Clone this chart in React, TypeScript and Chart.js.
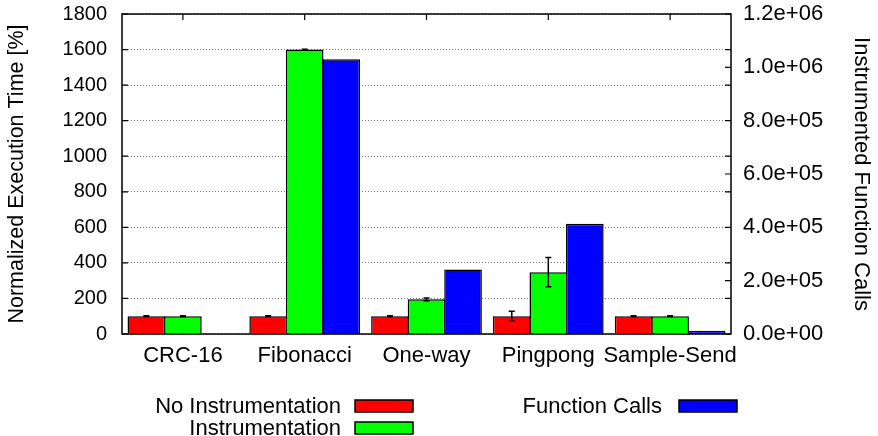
import React, { useEffect, useRef } from "react";
import { Chart, registerables } from "chart.js";

Chart.register(...registerables);

const categories = ["CRC-16", "Fibonacci", "One-way", "Pingpong", "Sample-Send"];
const noInstrumentation = [100, 100, 100, 100, 100];
const noInstrumentationErr = [2, 2, 2, 28, 2];
const instrumentation = [100, 1600, 195, 348, 100];
const instrumentationErr = [2, 2, 8, 82, 2];
const functionCalls = [300, 1030000, 242000, 413000, 12000];
const seriesNames = ["No Instrumentation", "Instrumentation", "Function Calls"];
const seriesColors = ["#ff0000", "#00ff00", "#0000ff"];
const leftTitle = "Normalized Execution Time [%]";
const rightTitle = "Instrumented Function Calls";

const FONT = "'Liberation Sans', Arial, Helvetica, sans-serif";

function expFormat(v: number): string {
  const s = Number(v).toExponential(1);
  const [m, e] = s.split("e");
  const sign = e[0];
  const digits = e.slice(1).padStart(2, "0");
  return m + "e" + sign + digits;
}

const decorPlugin = {
  id: "decor",
  beforeDatasetsDraw(chart: any) {
    const { ctx, chartArea, scales } = chart;
    const { left, right, top, bottom } = chartArea;
    const tl = 6;
    ctx.save();
    ctx.strokeStyle = "#000";
    ctx.lineWidth = 1.2;
    ctx.beginPath();
    scales.y.ticks.forEach((t: any) => {
      const y = scales.y.getPixelForValue(t.value);
      ctx.moveTo(left, y);
      ctx.lineTo(left + tl, y);
      ctx.moveTo(right, y);
      ctx.lineTo(right - tl, y);
    });
    scales.y2.ticks.forEach((t: any) => {
      const y = scales.y2.getPixelForValue(t.value);
      ctx.moveTo(right, y);
      ctx.lineTo(right - tl, y);
    });
    categories.forEach((_c, i) => {
      const x = scales.x.getPixelForValue(i);
      ctx.moveTo(x, top);
      ctx.lineTo(x, top + tl);
      ctx.moveTo(x, bottom);
      ctx.lineTo(x, bottom - tl);
    });
    ctx.stroke();
    ctx.restore();
  },
  afterDatasetsDraw(chart: any) {
    const { ctx, chartArea, scales } = chart;
    const { left, right, top, bottom } = chartArea;
    ctx.save();
    ctx.strokeStyle = "#000";
    ctx.lineWidth = 1.5;
    const errs = [noInstrumentationErr, instrumentationErr];
    const vals = [noInstrumentation, instrumentation];
    [0, 1].forEach((di) => {
      const meta = chart.getDatasetMeta(di);
      meta.data.forEach((bar: any, j: number) => {
        const v = vals[di][j];
        const e = errs[di][j];
        const y1 = scales.y.getPixelForValue(v + e);
        const y2 = scales.y.getPixelForValue(v - e);
        const x = bar.x;
        ctx.beginPath();
        ctx.moveTo(x, y1);
        ctx.lineTo(x, y2);
        ctx.moveTo(x - 3, y1);
        ctx.lineTo(x + 3, y1);
        ctx.moveTo(x - 3, y2);
        ctx.lineTo(x + 3, y2);
        ctx.stroke();
      });
    });
    ctx.lineWidth = 1.5;
    ctx.strokeRect(left, top, right - left, bottom - top);
    ctx.restore();
  },
  afterDraw(chart: any) {
    const { ctx } = chart;
    ctx.save();
    ctx.font = "22px " + FONT;
    ctx.textAlign = "right";
    ctx.textBaseline = "middle";
    const items = [
      { tx: 341, ty: 407, sx: 355, sy: 400, sw: 58 },
      { tx: 341, ty: 429, sx: 355, sy: 422, sw: 58 },
      { tx: 662, ty: 407, sx: 679, sy: 400, sw: 58 },
    ];
    items.forEach((it, i) => {
      ctx.fillStyle = "#000";
      ctx.fillText(seriesNames[i], it.tx, it.ty);
      ctx.fillStyle = seriesColors[i];
      ctx.fillRect(it.sx, it.sy, it.sw, 12);
      ctx.strokeStyle = "#000";
      ctx.lineWidth = 1.5;
      ctx.strokeRect(it.sx, it.sy, it.sw, 12);
    });
    ctx.restore();
  },
};

export default function App() {
  const ref = useRef<HTMLCanvasElement | null>(null);
  useEffect(() => {
    document.body.style.margin = "0";
    const canvas = ref.current;
    if (!canvas) return;
    const common = {
      borderColor: "#000",
      borderWidth: 1.5,
      categoryPercentage: 0.9,
      barPercentage: 1.03,
    };
    const chart = new Chart(canvas, {
      type: "bar",
      data: {
        labels: categories,
        datasets: [
          { ...common, label: seriesNames[0], data: noInstrumentation, backgroundColor: seriesColors[0], yAxisID: "y" },
          { ...common, label: seriesNames[1], data: instrumentation, backgroundColor: seriesColors[1], yAxisID: "y" },
          { ...common, label: seriesNames[2], data: functionCalls, backgroundColor: seriesColors[2], yAxisID: "y2" },
        ],
      },
      options: {
        animation: false,
        responsive: false,
        devicePixelRatio: 1,
        layout: { padding: { top: 14, left: 0, right: 0, bottom: 0 } },
        plugins: { legend: { display: false }, tooltip: { enabled: false } },
        scales: {
          x: {
            grid: { display: false, drawTicks: false },
            border: { display: false },
            ticks: { color: "#000", font: { family: FONT, size: 22 }, padding: 9, maxRotation: 0, autoSkip: false },
            afterFit: (s: any) => { s.height = 102; s.paddingLeft = 0; s.paddingRight = 0; },
          },
          y: {
            position: "left",
            min: 0,
            max: 1800,
            grid: { color: "#777", lineWidth: 1, drawTicks: false },
            border: { display: false, dash: [1, 2] },
            ticks: { stepSize: 200, color: "#000", font: { family: FONT, size: 20 }, padding: 15, callback: (v: any) => String(v) },
            title: { display: true, text: leftTitle, color: "#000", font: { family: FONT, size: 21.5 } },
            afterFit: (s: any) => { s.width = 122; s.paddingTop = 0; s.paddingBottom = 0; },
          },
          y2: {
            position: "right",
            min: 0,
            max: 1200000,
            grid: { display: false, drawTicks: false },
            border: { display: false },
            ticks: { stepSize: 200000, color: "#000", font: { family: FONT, size: 22 }, padding: 12, callback: (v: any) => expFormat(Number(v)) },
            title: { display: true, text: rightTitle, color: "#000", font: { family: FONT, size: 22 } },
            afterFit: (s: any) => { s.width = 147; s.paddingTop = 0; s.paddingBottom = 0; },
          },
        },
      },
      plugins: [decorPlugin],
    } as any);
    return () => chart.destroy();
  }, []);
  return <canvas ref={ref} width={878} height={436} style={{ display: "block" }} />;
}
